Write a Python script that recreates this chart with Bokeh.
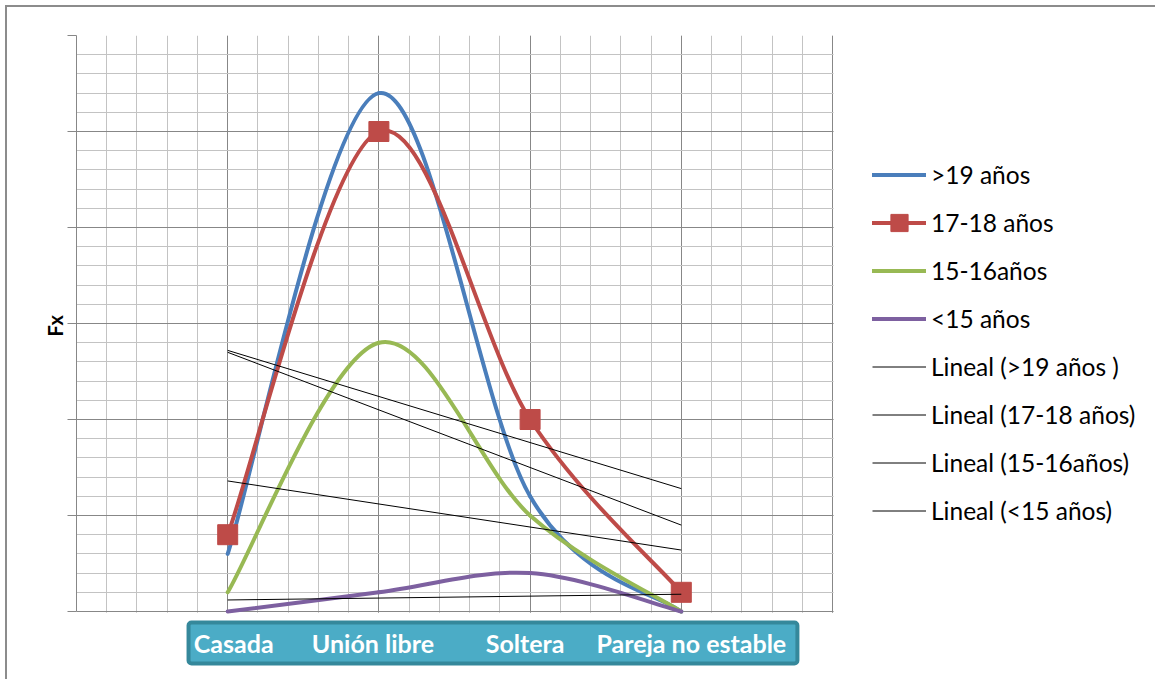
import numpy as np
from bokeh.plotting import figure
from bokeh.models import (ColumnDataSource, LinearAxis, Grid, SingleIntervalTicker, Title,
                          Range1d, BoxAnnotation, Legend, LegendItem, CustomJSTickFormatter)
from bokeh.core.properties import value
from bokeh.embed import file_html
from bokeh.resources import INLINE

# ---- data -------------------------------------------------------------
categories = ["Casada", "Unión libre", "Soltera", "Pareja no estable"]
series_names = [">19 años", "17-18 años", "15-16años", "<15 años"]
trend_names = ["Lineal (>19 años )", "Lineal (17-18 años)",
               "Lineal (15-16años)", "Lineal (<15 años)"]
over_19 = [3, 27, 6, 0]
age_17_18 = [4, 25, 10, 1]
age_15_16 = [1, 14, 5, 0]
under_15 = [0, 1, 2, 0]
y_label = "Fx"

# ---- styling ------------------------------------------------------------
colors = ["#4A7EBB", "#BE4B48", "#98B954", "#7D60A0"]
major_grid = "#878787"
minor_grid = "#C3C3C3"
band_fill = "#4BACC6"
band_line = "#35889B"
label_nudge = [6, -6, -5, 10]          # px shift of each category label

X_END = 5                               # last gridline of the plotting area
Y_TOP = 30
PX_PER_X = 151.2
PX_PER_Y = 19.2
FRAME_W = 1081
FRAME_H = 646
x_right = FRAME_W / PX_PER_X
y_bottom = Y_TOP - FRAME_H / PX_PER_Y

cat_x = np.arange(1, len(categories) + 1, dtype=float)


def smooth_segments(xs, ys):
    """Cubic Bezier pieces through the points (Catmull-Rom style tangents)."""
    xs = np.asarray(xs, float)
    ys = np.asarray(ys, float)
    px = np.concatenate([[xs[0]], xs, [xs[-1]]])
    py = np.concatenate([[ys[0]], ys, [ys[-1]]])
    out = {k: [] for k in ("x0", "y0", "x1", "y1", "cx0", "cy0", "cx1", "cy1")}
    for i in range(len(xs) - 1):
        out["x0"].append(px[i + 1]); out["y0"].append(py[i + 1])
        out["x1"].append(px[i + 2]); out["y1"].append(py[i + 2])
        out["cx0"].append(px[i + 1] + (px[i + 2] - px[i]) / 6)
        out["cy0"].append(py[i + 1] + (py[i + 2] - py[i]) / 6)
        out["cx1"].append(px[i + 2] - (px[i + 3] - px[i + 1]) / 6)
        out["cy1"].append(py[i + 2] - (py[i + 3] - py[i + 1]) / 6)
    return out


p = figure(width=1150, height=674,
           x_range=Range1d(0, x_right), y_range=Range1d(y_bottom, Y_TOP),
           x_axis_type=None, y_axis_type=None, title=None,
           toolbar_location=None, output_backend="svg",
           min_border_left=69, min_border_right=0,
           min_border_top=28, min_border_bottom=0,
           background_fill_color="white", border_fill_color="white")
p.outline_line_color = None
p.styles = {"margin-left": "5px", "margin-top": "5px",
            "border-left": "2px solid #8C8C8C", "border-top": "2px solid #8C8C8C"}

# grid
xgrid = Grid(dimension=0, ticker=SingleIntervalTicker(interval=1, num_minor_ticks=5),
             bounds=(0, X_END),
             grid_line_color=major_grid, minor_grid_line_color=minor_grid)
ygrid = Grid(dimension=1, ticker=SingleIntervalTicker(interval=5, num_minor_ticks=5),
             bounds=(0, Y_TOP),
             grid_line_color=major_grid, minor_grid_line_color=minor_grid)
p.add_layout(xgrid)
p.add_layout(ygrid)

# keep the grid inside the plotting area: blank below zero and right of X_END
p.add_layout(BoxAnnotation(top=-0.06, fill_color="white", fill_alpha=1.0,
                           line_color=None, level="underlay"))
p.add_layout(BoxAnnotation(left=X_END + 0.007, fill_color="white", fill_alpha=1.0,
                           line_color=None, level="underlay"))

# value axis (no numbers, only ticks)
yaxis = LinearAxis(ticker=SingleIntervalTicker(interval=5, num_minor_ticks=0),
                   formatter=CustomJSTickFormatter(code="return ''"),
                   bounds=(0, Y_TOP))
yaxis.axis_line_color = major_grid
yaxis.major_tick_line_color = major_grid
yaxis.major_tick_out = 9
yaxis.major_tick_in = 0
yaxis.minor_tick_line_color = None
yaxis.major_label_standoff = 0
p.add_layout(yaxis, "left")

# axis title, placed at the middle of the value range (offset from frame bottom)
p.add_layout(Title(text=y_label, align="left", offset=345, standoff=2,
                   text_font="Lato", text_font_size="20px",
                   text_font_style="bold", text_color="#000000"), "left")

# category band
p.quad(left=0.741, right=4.768, top=-0.573, bottom=-2.708,
       fill_color=band_fill, line_color=band_line, line_width=4, border_radius=3)
cat_src = ColumnDataSource(dict(x=cat_x, y=[-1.66] * len(categories),
                                text=categories, nudge=label_nudge))
p.text(x="x", y="y", text="text", x_offset="nudge", source=cat_src,
       text_align="center", text_baseline="alphabetic", text_color="white",
       text_font=value("Lato"), text_font_style="bold", text_font_size="25px")

# smoothed series
all_values = [over_19, age_17_18, age_15_16, under_15]
curve_renderers = []
for vals, col in zip(all_values, colors):
    src = ColumnDataSource(smooth_segments(cat_x, vals))
    r = p.bezier(x0="x0", y0="y0", x1="x1", y1="y1",
                 cx0="cx0", cy0="cy0", cx1="cx1", cy1="cy1",
                 source=src, line_color=col, line_width=4, line_cap="round")
    curve_renderers.append(r)

markers = p.scatter(cat_x, age_17_18, marker="square", size=20,
                    fill_color=colors[1], line_color=colors[1])

# linear trend lines
trend_renderers = []
for vals in all_values:
    slope, intercept = np.polyfit(cat_x, vals, 1)
    ends = np.array([cat_x[0], cat_x[-1]])
    t = p.line(ends, slope * ends + intercept, line_color="#000000", line_width=1)
    trend_renderers.append(t)

items = []
for i, (name, r) in enumerate(zip(series_names, curve_renderers)):
    rs = [r, markers] if i == 1 else [r]
    items.append(LegendItem(label=name, renderers=rs))
for name, t in zip(trend_names, trend_renderers):
    items.append(LegendItem(label=name, renderers=[t]))

legend = Legend(items=items, location=(796, 149))
legend.glyph_width = 54
legend.glyph_height = 43
legend.spacing = 5
legend.padding = 10
legend.margin = 0
legend.label_standoff = 5
legend.label_text_font = "Lato"
legend.label_text_font_size = "24.5px"
legend.label_text_color = "#000000"
legend.background_fill_alpha = 0
legend.border_line_color = None
p.add_layout(legend)

open("out.html", "w").write(file_html(p, INLINE))
